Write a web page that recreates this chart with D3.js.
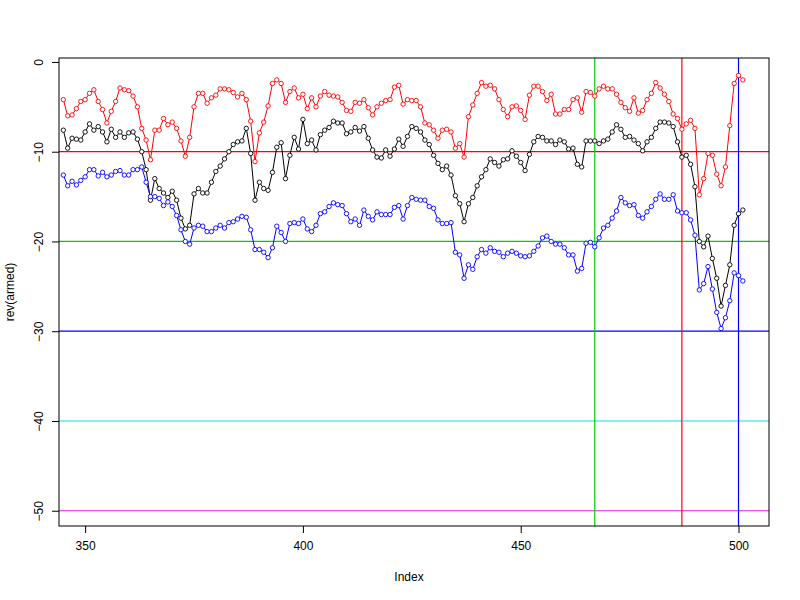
<!DOCTYPE html>
<html><head><meta charset="utf-8">
<script src="https://cdn.jsdelivr.net/npm/d3@7"></script>
<style>body{margin:0;background:#fff}</style></head>
<body><svg id="c" width="800" height="600"></svg>
<script>
const startIndex = 345;
const redSeries = [-4.2,-6.0,-5.9,-5.2,-4.4,-4.2,-3.5,-3.1,-4.4,-5.3,-6.8,-5.5,-4.4,-2.9,-3.1,-3.2,-3.8,-5.0,-7.4,-8.7,-10.9,-7.6,-7.6,-6.3,-7.0,-6.7,-7.4,-8.8,-10.5,-8.4,-5.0,-3.5,-3.5,-4.6,-4.0,-3.7,-3.0,-3.0,-3.1,-3.4,-3.9,
-3.5,-4.2,-6.6,-11.1,-7.9,-6.7,-4.9,-2.4,-2.0,-2.4,-4.5,-3.3,-2.9,-4.0,-3.6,-5.2,-4.0,-5.0,-3.8,-3.3,-3.7,-3.8,-3.9,-4.5,-5.4,-5.5,-4.5,-4.6,-4.2,-5.1,-5.9,-5.0,-4.6,-4.3,-4.2,-2.8,-2.6,-4.7,-4.2,-4.3,
-4.3,-5.0,-6.8,-7.0,-7.6,-8.5,-7.6,-7.5,-7.8,-9.6,-9.1,-10.6,-6.1,-4.8,-3.5,-2.3,-2.7,-2.6,-3.0,-4.2,-5.3,-6.1,-5.0,-4.9,-5.4,-6.4,-3.7,-2.7,-2.7,-3.3,-4.3,-3.6,-5.8,-5.8,-5.3,-5.3,-4.2,-4.0,-5.6,-3.3,
-3.4,-3.8,-3.0,-2.7,-3.0,-3.0,-3.6,-4.5,-5.1,-5.5,-4.0,-5.7,-5.4,-4.2,-3.5,-2.3,-2.9,-3.6,-4.4,-5.8,-6.3,-7.5,-6.9,-6.5,-7.4,-14.8,-13.0,-10.2,-10.4,-12.5,-13.8,-11.7,-7.1,-2.4,-1.5,-2.0];
const blackSeries = [-7.6,-9.6,-8.5,-8.6,-8.7,-7.8,-6.9,-7.6,-7.2,-7.8,-8.9,-7.5,-8.4,-7.8,-8.4,-7.9,-7.8,-8.6,-10.0,-12.0,-15.4,-13.0,-14.1,-14.6,-15.1,-14.4,-15.4,-17.4,-18.6,-18.2,-14.7,-14.1,-14.6,-14.6,-13.4,-12.2,-11.6,-10.8,-10.0,-9.2,-8.9,
-8.8,-7.4,-10.2,-15.4,-13.4,-14.1,-14.3,-12.3,-9.5,-9.0,-13.0,-10.4,-8.4,-9.7,-6.4,-9.1,-8.7,-9.8,-8.1,-7.6,-7.3,-6.6,-6.8,-6.8,-8.0,-7.8,-7.3,-7.7,-7.2,-8.5,-9.8,-10.6,-10.7,-9.8,-10.5,-9.7,-8.6,-9.4,-8.3,-7.2,
-7.4,-7.8,-8.7,-9.2,-10.4,-11.3,-12.0,-11.6,-12.6,-14.9,-15.8,-17.8,-15.8,-15.1,-13.8,-12.8,-12.0,-10.8,-11.2,-11.6,-10.9,-10.8,-9.9,-10.5,-11.2,-12.1,-10.3,-8.9,-8.3,-8.4,-8.8,-8.8,-9.2,-8.7,-8.9,-9.7,-9.6,-11.4,-11.7,-8.8,
-8.8,-8.8,-9.1,-8.8,-8.6,-7.8,-7.0,-7.5,-8.4,-8.3,-8.7,-9.1,-9.9,-8.9,-8.4,-7.4,-6.7,-6.7,-6.8,-7.2,-8.9,-10.6,-10.4,-11.4,-13.9,-20.0,-20.6,-19.4,-21.9,-24.1,-27.2,-24.9,-22.6,-18.2,-16.9,-16.5];
const blueSeries = [-12.6,-13.8,-13.3,-13.7,-13.2,-12.8,-12.0,-12.0,-12.7,-12.3,-12.8,-12.6,-12.2,-12.1,-12.6,-12.6,-12.0,-12.0,-11.7,-13.4,-15.0,-15.0,-15.2,-16.0,-15.6,-16.1,-17.1,-18.7,-20.0,-20.3,-18.5,-18.2,-18.3,-18.9,-18.9,-18.5,-18.2,-18.5,-17.9,-17.8,-17.5,
-17.2,-17.3,-18.7,-20.9,-20.9,-21.2,-21.8,-20.7,-18.3,-19.0,-20.0,-18.0,-17.9,-18.0,-17.5,-18.6,-18.9,-18.2,-16.9,-16.7,-16.1,-15.7,-15.9,-16.0,-16.9,-17.8,-17.5,-18.2,-16.5,-17.2,-17.6,-16.7,-17.0,-17.0,-17.0,-16.2,-16.0,-17.5,-16.0,-15.1,
-15.3,-15.4,-15.4,-16.1,-16.3,-17.6,-18.0,-18.0,-17.9,-21.2,-21.5,-24.1,-22.6,-23.1,-21.7,-20.9,-21.3,-20.7,-21.1,-21.2,-21.7,-21.3,-21.1,-21.3,-21.6,-21.7,-21.6,-21.1,-20.5,-19.6,-19.4,-20.0,-20.3,-20.3,-20.7,-21.5,-21.5,-23.3,-23.0,-20.2,
-20.1,-20.6,-19.6,-18.5,-18.2,-17.4,-16.6,-15.1,-15.7,-16.0,-15.9,-17.1,-17.4,-16.7,-16.1,-15.3,-14.7,-15.3,-15.3,-14.8,-16.6,-16.8,-16.8,-17.6,-19.3,-25.4,-24.7,-22.8,-25.3,-27.9,-29.7,-28.5,-26.6,-23.5,-23.8,-24.4];
const xTicks = [350,400,450,500];
const yTicks = [0,-10,-20,-30,-40,-50];
const hLines = [{v:-10,c:"#ff0000"},{v:-20,c:"#00cd00"},{v:-30,c:"#0000ff"},{v:-40,c:"#00e5ee"},{v:-50,c:"#e020e0"}];
const vLines = [{v:467,c:"#00cd00"},{v:487,c:"#ff0000"},{v:500,c:"#0000ff"}];

const L=59,R=769,T=58,B=526;
const x=d3.scaleLinear().domain([344,507]).range([L,R]);
const y=d3.scaleLinear().domain([0.44,-51.7]).range([T,B]);
const svg=d3.select("#c");
const g=svg.append("g");
g.append("defs").append("clipPath").attr("id","cp").append("rect").attr("x",L).attr("y",T).attr("width",R-L).attr("height",B-T);
const pl=g.append("g").attr("clip-path","url(#cp)");
hLines.forEach(h=>pl.append("line").attr("x1",L).attr("x2",R).attr("y1",y(h.v)).attr("y2",y(h.v)).attr("stroke",h.c).attr("stroke-width",1.2));
vLines.forEach(h=>pl.append("line").attr("y1",T).attr("y2",B).attr("x1",x(h.v)).attr("x2",x(h.v)).attr("stroke",h.c).attr("stroke-width",1.2));
[[blackSeries,"#000"],[redSeries,"#ff0000"],[blueSeries,"#0000ff"]].forEach(([s,c])=>{
  const pts=s.map((v,i)=>[startIndex+i,v]);
  pl.append("path").attr("d",d3.line().x(d=>x(d[0])).y(d=>y(d[1]))(pts)).attr("fill","none").attr("stroke",c).attr("stroke-width",1);
  pl.selectAll(null).data(pts).enter().append("circle").attr("cx",d=>x(d[0])).attr("cy",d=>y(d[1])).attr("r",2.2).attr("fill","#fff").attr("stroke",c).attr("stroke-width",0.9);
});
g.append("rect").attr("x",L).attr("y",T).attr("width",R-L).attr("height",B-T).attr("fill","none").attr("stroke","#000");
const xa=g.append("g").attr("transform",`translate(0,${B})`).call(d3.axisBottom(x).tickValues(xTicks).tickSize(7).tickPadding(8));
const ya=g.append("g").attr("transform",`translate(${L},0)`).call(d3.axisLeft(y).tickValues(yTicks).tickSize(7).tickPadding(5));
[xa,ya].forEach(a=>{a.select(".domain").remove();a.selectAll("text").attr("font-family","Liberation Sans, Arial").attr("font-size",12).attr("fill","#000");});
ya.selectAll("text").attr("transform",function(){const t=d3.select(this);return null;}).each(function(d){
  const t=d3.select(this);t.attr("text-anchor","middle").attr("x",null).attr("dy",null).attr("transform",`translate(-18,${y(d)-y(d)}) rotate(-90)`);
});
ya.selectAll(".tick text").attr("x",0).attr("y",0).attr("transform","translate(-16,0) rotate(-90)");
svg.append("text").attr("x",409).attr("y",581).attr("text-anchor","middle").attr("font-family","Liberation Sans, Arial").attr("font-size",12).text("Index");
svg.append("text").attr("transform","translate(14,292) rotate(-90)").attr("text-anchor","middle").attr("font-family","Liberation Sans, Arial").attr("font-size",12).text("rev(armed)");
</script></body></html>
